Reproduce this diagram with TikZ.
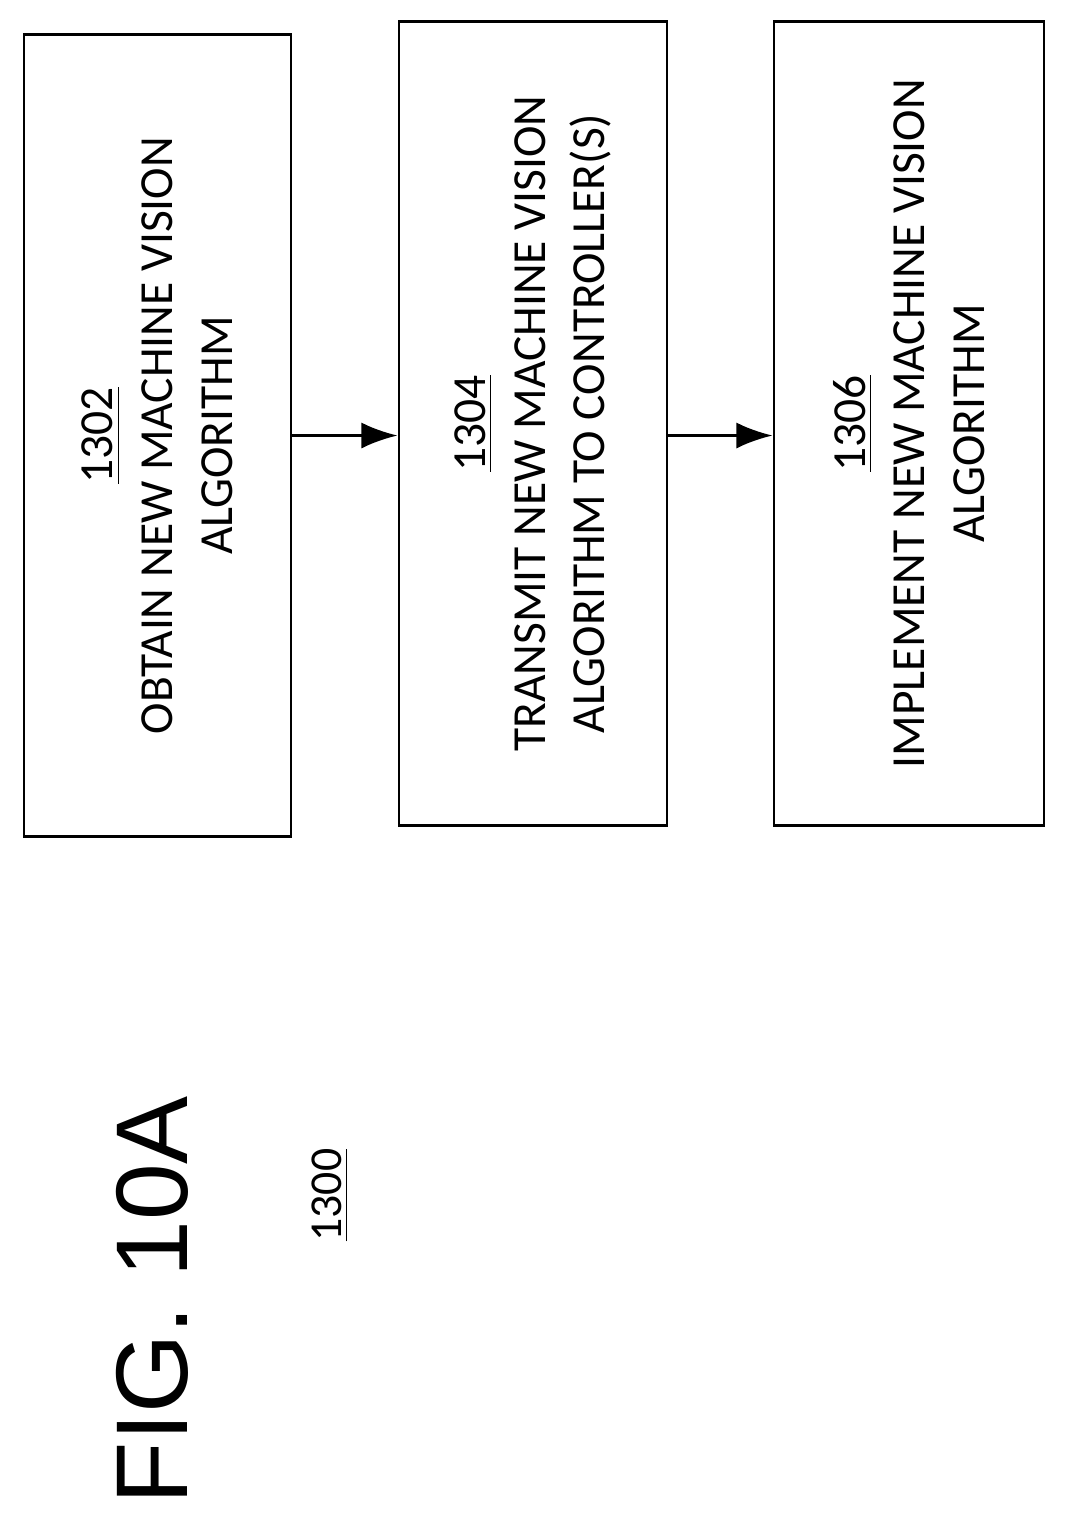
\documentclass[tikz,border=0pt]{standalone}
\usepackage{fontspec}
\setmainfont{Carlito}
\newfontfamily\figfont{Liberation Sans}
\usetikzlibrary{arrows.meta,positioning}

\begin{document}
\begin{tikzpicture}[x=0.01cm,y=-0.01cm,thick,>={Latex[length=3.6mm,width=2.6mm]}]
\tikzset{stepbox/.style={draw,rotate=90,align=center,inner sep=0pt,
  font=\fontsize{13.5}{17}\selectfont}}
\useasboundingbox (0,0) rectangle (1066,1526);

\node[stepbox,minimum width=8.01cm,minimum height=2.67cm] (b1) at (157.5,435.5)
  {\underline{1302}\\OBTAIN NEW MACHINE VISION\\ALGORITHM};
\node[stepbox,minimum width=8.03cm,minimum height=2.68cm] (b2) at (533,423.5)
  {\underline{1304}\\TRANSMIT NEW MACHINE VISION\\ALGORITHM TO CONTROLLER(S)};
\node[stepbox,minimum width=8.03cm,minimum height=2.70cm] (b3) at (909,423.5)
  {\underline{1306}\\IMPLEMENT NEW MACHINE VISION\\ALGORITHM};

\node[rotate=90,font=\figfont\fontsize{29}{29}\selectfont] (fig) at (152,1300) {FIG. 10A};
\node[rotate=90,font=\fontsize{13}{15}\selectfont] (ref) at (330,1195) {\underline{1300}};

\draw[->] (b1.south) -- (b2.north |- b1.south);
\draw[->] (b2.south |- b1.south) -- (b3.north |- b1.south);
\end{tikzpicture}
\end{document}
